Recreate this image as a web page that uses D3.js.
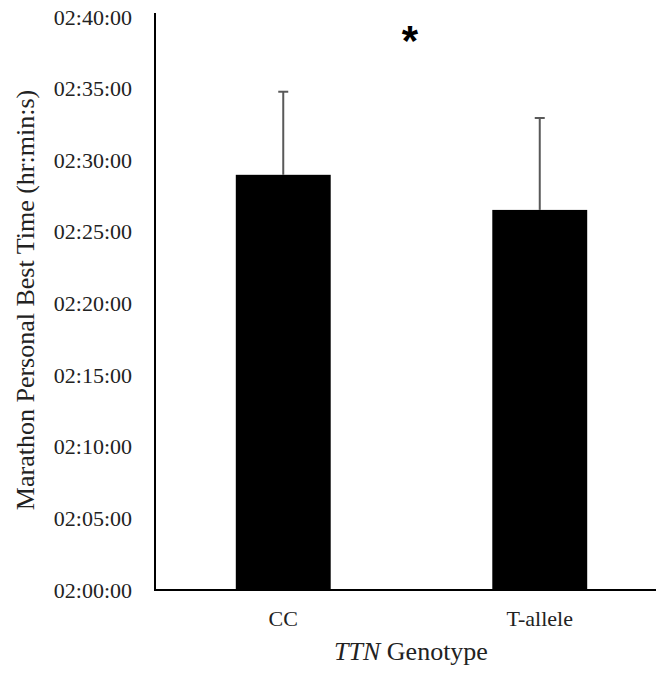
<!DOCTYPE html>
<html>
<head>
<meta charset="utf-8">
<script src="https://cdn.jsdelivr.net/npm/d3@7"></script>
<style>
  body { margin: 0; background: #fff; }
  svg { display: block; font-family: "Liberation Serif", "Times New Roman", serif; }
</style>
</head>
<body>
<svg id="chart" width="659" height="677"></svg>
<script>
// genotypes and marathon PB (seconds), sd in seconds
const genotypes = ["CC", "T-allele"];
const meanSec = [8939, 8792];
const sdSec = [348, 385];
const tickSec = [7200, 7500, 7800, 8100, 8400, 8700, 9000, 9300, 9600];

const svg = d3.select("#chart"),
      W = +svg.attr("width");

const fmt = s => {
  const h = Math.floor(s / 3600), m = Math.floor((s % 3600) / 60), sec = s % 60;
  return [h, m, sec].map(v => String(v).padStart(2, "0")).join(":");
};

let x = d3.scaleBand().domain(genotypes).range([155, 668]).paddingInner(0.63).paddingOuter(0.315);
let y = d3.scaleLinear().domain([7200, 9600]).range([590, 17]);

// y axis
const ya = svg.append("g").attr("transform", "translate(155,0)")
  .call(d3.axisLeft(y).tickValues(tickSec).tickFormat(fmt).tickSize(0).tickPadding(23));
ya.select(".domain").attr("stroke", "#000").attr("stroke-width", 2).attr("d", "M0,13V" + y(7200));
ya.selectAll("text").attr("font-size", 22).attr("font-family", "Liberation Serif").attr("fill", "#222");

// x axis
const xa = svg.append("g").attr("transform", "translate(0," + y(7200) + ")")
  .call(d3.axisBottom(x).tickSize(0).tickPadding(20));
xa.select(".domain").attr("stroke", "#000").attr("stroke-width", 2).attr("d", "M154,0H656");
xa.selectAll("text").attr("font-size", 22).attr("font-family", "Liberation Serif").attr("fill", "#222");

// bars
svg.append("g").selectAll("rect").data(genotypes).enter().append("rect")
  .attr("x", d => x(d))
  .attr("y", (d, i) => y(meanSec[i]))
  .attr("width", x.bandwidth())
  .attr("height", (d, i) => y(7200) - y(meanSec[i]) - 1)
  .attr("fill", "#000");

// error bars (upper only)
const eb = svg.append("g").attr("stroke", "#595959").attr("stroke-width", 2);
genotypes.forEach((g, i) => {
  const cx = x(g) + x.bandwidth() / 2;
  eb.append("line").attr("x1", cx).attr("x2", cx)
    .attr("y1", y(meanSec[i])).attr("y2", y(meanSec[i] + sdSec[i]));
  eb.append("line").attr("x1", cx - 5).attr("x2", cx + 5)
    .attr("y1", y(meanSec[i] + sdSec[i])).attr("y2", y(meanSec[i] + sdSec[i]));
});

// significance marker
svg.append("text").attr("x", 410).attr("y", 55).attr("text-anchor", "middle")
  .attr("font-family", "Liberation Sans").attr("font-weight", "bold").attr("font-size", 42)
  .text("*");

// axis titles
svg.append("text").attr("transform", "translate(34,300) rotate(-90)").attr("text-anchor", "middle")
  .attr("font-size", 26).attr("fill", "#222").text("Marathon Personal Best Time (hr:min:s)");

const xt = svg.append("text").attr("x", 411).attr("y", 660).attr("text-anchor", "middle")
  .attr("font-size", 26).attr("fill", "#222");
xt.append("tspan").attr("font-style", "italic").text("TTN");
xt.append("tspan").text(" Genotype");
</script>
</body>
</html>
